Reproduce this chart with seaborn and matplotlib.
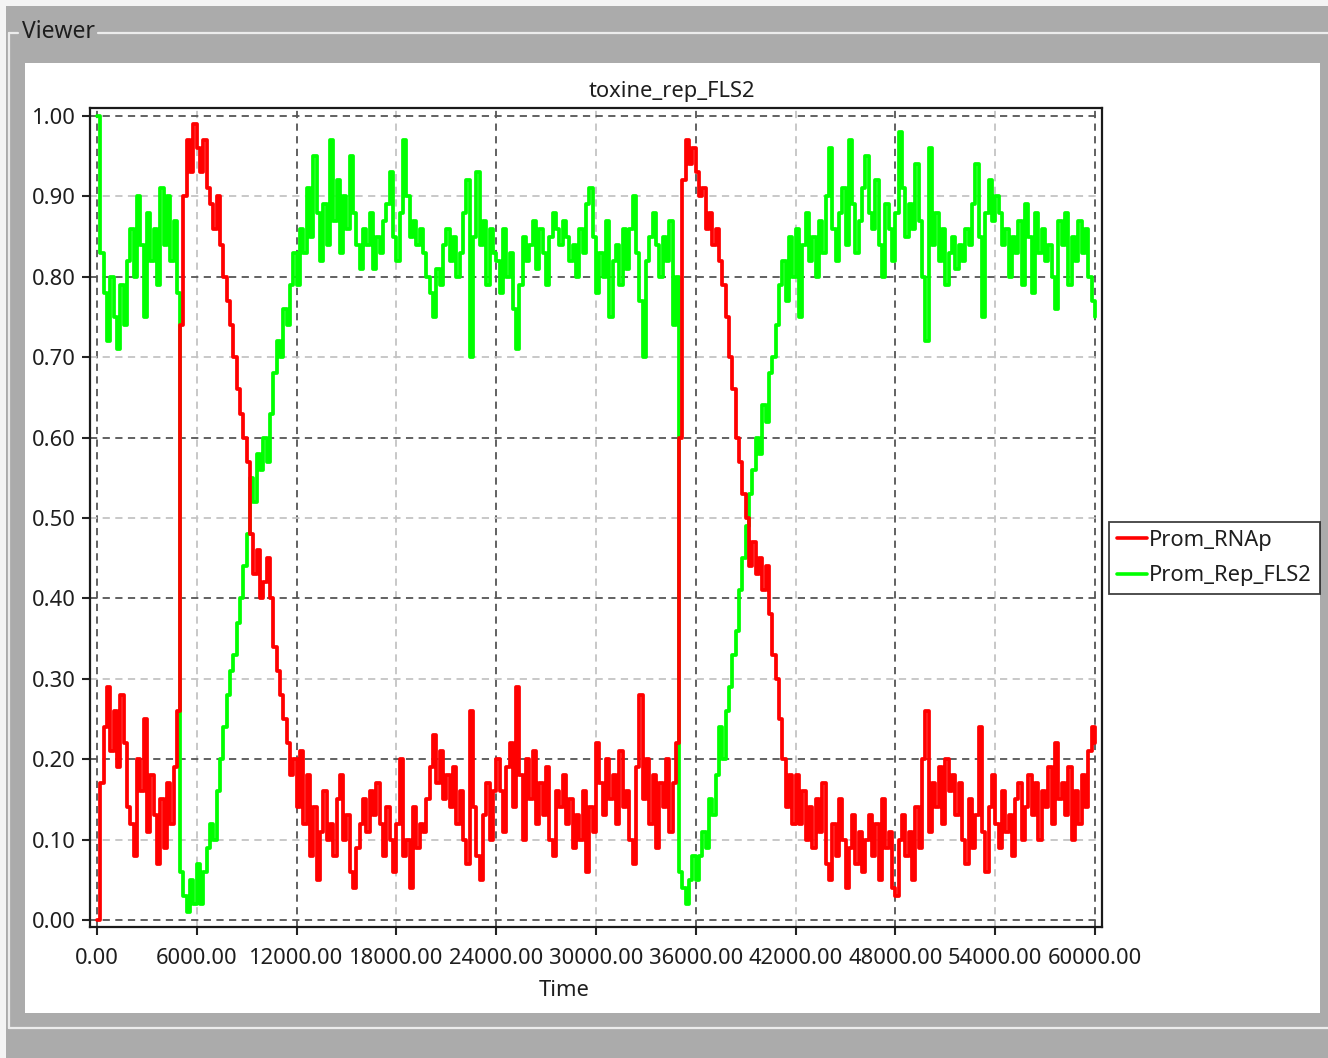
import numpy as np
import pandas as pd
import matplotlib
matplotlib.use('Agg')
import matplotlib.pyplot as plt
import seaborn as sns
from matplotlib.patches import Rectangle
from matplotlib.lines import Line2D
from matplotlib.ticker import FixedLocator, FuncFormatter

# sampling grid of the simulation output (every 200 time units)
time = np.arange(0, 60001, 200)

prom_rnap = [
    0.0, 0.17, 0.24, 0.29, 0.21, 0.26, 0.19, 0.28, 0.22, 0.14,
    0.12, 0.08, 0.2, 0.16, 0.25, 0.11, 0.18, 0.13, 0.07, 0.15,
    0.09, 0.17, 0.12, 0.19, 0.26, 0.74, 0.9, 0.97, 0.93, 0.99,
    0.96, 0.93, 0.97, 0.91, 0.89, 0.86, 0.9, 0.84, 0.8, 0.77,
    0.74, 0.7, 0.66, 0.63, 0.6, 0.57, 0.48, 0.43, 0.46, 0.4,
    0.42, 0.45, 0.4, 0.34, 0.31, 0.28, 0.25, 0.22, 0.18, 0.2,
    0.14, 0.21, 0.12, 0.18, 0.08, 0.14, 0.05, 0.11, 0.16, 0.1,
    0.12, 0.08, 0.15, 0.18, 0.1, 0.13, 0.06, 0.04, 0.09, 0.12,
    0.15, 0.11, 0.16, 0.13, 0.17, 0.12, 0.08, 0.14, 0.1, 0.06,
    0.12, 0.2, 0.08, 0.1, 0.04, 0.14, 0.09, 0.12, 0.11, 0.15,
    0.19, 0.23, 0.17, 0.21, 0.15, 0.18, 0.14, 0.19, 0.12, 0.16,
    0.1, 0.07, 0.26, 0.14, 0.08, 0.05, 0.13, 0.17, 0.1, 0.16,
    0.2, 0.16, 0.11, 0.19, 0.22, 0.14, 0.29, 0.18, 0.1, 0.2,
    0.15, 0.21, 0.12, 0.17, 0.13, 0.19, 0.1, 0.08, 0.16, 0.14,
    0.18, 0.12, 0.15, 0.09, 0.13, 0.1, 0.16, 0.06, 0.14, 0.11,
    0.22, 0.17, 0.13, 0.2, 0.15, 0.18, 0.12, 0.21, 0.14, 0.16,
    0.1, 0.07, 0.19, 0.28, 0.15, 0.2, 0.12, 0.18, 0.09, 0.17,
    0.14, 0.2, 0.11, 0.17, 0.22, 0.6, 0.92, 0.97, 0.94, 0.96,
    0.93, 0.9, 0.91, 0.86, 0.88, 0.84, 0.86, 0.82, 0.79, 0.75,
    0.7, 0.66, 0.6, 0.57, 0.53, 0.5, 0.44, 0.47, 0.43, 0.45,
    0.41, 0.44, 0.38, 0.33, 0.3, 0.25, 0.2, 0.14, 0.18, 0.12,
    0.18, 0.12, 0.16, 0.1, 0.14, 0.09, 0.15, 0.11, 0.17, 0.07,
    0.05, 0.12, 0.08, 0.15, 0.1, 0.04, 0.09, 0.13, 0.07, 0.11,
    0.06, 0.1, 0.13, 0.08, 0.12, 0.05, 0.15, 0.09, 0.11, 0.04,
    0.03, 0.1, 0.13, 0.08, 0.11, 0.05, 0.14, 0.09, 0.2, 0.26,
    0.11, 0.17, 0.14, 0.19, 0.12, 0.2, 0.16, 0.18, 0.13, 0.17,
    0.1, 0.07, 0.15, 0.09, 0.13, 0.24, 0.11, 0.06, 0.14, 0.18,
    0.12, 0.09, 0.16, 0.11, 0.13, 0.08, 0.15, 0.17, 0.1, 0.14,
    0.18, 0.13, 0.17, 0.1, 0.16, 0.14, 0.19, 0.12, 0.22, 0.15,
    0.17, 0.13, 0.19, 0.1, 0.16, 0.12, 0.18, 0.14, 0.21, 0.24,
    0.22,
]

prom_rep_fls2 = [
    1.0, 0.83, 0.78, 0.72, 0.8, 0.75, 0.71, 0.79, 0.74, 0.82,
    0.86, 0.8, 0.9, 0.84, 0.75, 0.88, 0.82, 0.86, 0.79, 0.91,
    0.84, 0.9, 0.82, 0.87, 0.78, 0.06, 0.03, 0.01, 0.05, 0.02,
    0.07, 0.02, 0.06, 0.09, 0.12, 0.1, 0.16, 0.2, 0.24, 0.28,
    0.31, 0.33, 0.37, 0.4, 0.44, 0.48, 0.55, 0.52, 0.58, 0.56,
    0.6, 0.57, 0.63, 0.68, 0.72, 0.7, 0.76, 0.74, 0.79, 0.83,
    0.79, 0.86, 0.83, 0.91, 0.85, 0.95, 0.88, 0.82, 0.89, 0.84,
    0.97, 0.87, 0.92, 0.83, 0.9, 0.86, 0.95, 0.88, 0.84, 0.81,
    0.86, 0.84, 0.88, 0.81, 0.85, 0.83, 0.87, 0.89, 0.93, 0.85,
    0.82, 0.88, 0.97, 0.9, 0.85, 0.87, 0.84, 0.86, 0.83, 0.8,
    0.78, 0.75, 0.81, 0.79, 0.84, 0.86, 0.82, 0.85, 0.8, 0.83,
    0.88, 0.92, 0.7, 0.85, 0.93, 0.84, 0.87, 0.79, 0.86, 0.83,
    0.82, 0.78, 0.86, 0.8, 0.83, 0.76, 0.71, 0.79, 0.85, 0.82,
    0.84, 0.87, 0.81, 0.86, 0.83, 0.79, 0.85, 0.88, 0.86, 0.84,
    0.87, 0.85, 0.82, 0.84, 0.8, 0.86, 0.83, 0.89, 0.91, 0.85,
    0.78, 0.83, 0.8, 0.87, 0.75, 0.82, 0.84, 0.79, 0.86, 0.81,
    0.86, 0.9, 0.83, 0.77, 0.7, 0.82, 0.85, 0.88, 0.84, 0.8,
    0.85, 0.82, 0.87, 0.74, 0.8, 0.06, 0.04, 0.02, 0.05, 0.08,
    0.05, 0.08, 0.11, 0.09, 0.15, 0.13, 0.18, 0.24, 0.2, 0.26,
    0.29, 0.33, 0.36, 0.41, 0.45, 0.49, 0.53, 0.56, 0.6, 0.58,
    0.64, 0.62, 0.68, 0.7, 0.74, 0.79, 0.82, 0.77, 0.85, 0.8,
    0.86, 0.75, 0.84, 0.88, 0.82, 0.85, 0.8, 0.87, 0.83, 0.9,
    0.96, 0.86, 0.82, 0.88, 0.91, 0.84, 0.97, 0.89, 0.83, 0.87,
    0.91, 0.95, 0.88, 0.86, 0.92, 0.84, 0.8, 0.89, 0.86, 0.82,
    0.88, 0.98, 0.91, 0.85, 0.89, 0.86, 0.94, 0.87, 0.8, 0.72,
    0.96, 0.84, 0.88, 0.82, 0.86, 0.79, 0.83, 0.85, 0.81, 0.84,
    0.82, 0.86, 0.84, 0.89, 0.94, 0.85, 0.75, 0.88, 0.92, 0.87,
    0.9, 0.88, 0.84, 0.86, 0.8, 0.85, 0.83, 0.87, 0.79, 0.89,
    0.85, 0.78, 0.88, 0.83, 0.86, 0.82, 0.84, 0.8, 0.76, 0.87,
    0.84, 0.88, 0.79, 0.85, 0.82, 0.87, 0.83, 0.86, 0.8, 0.77,
    0.75,
]

series_names = ['Prom_RNAp', 'Prom_Rep_FLS2']
series_colors = {'Prom_RNAp': '#ff0000', 'Prom_Rep_FLS2': '#00ff00'}
x_major = [0, 12000, 24000, 36000, 48000, 60000]
x_minor = [6000, 18000, 30000, 42000, 54000]
y_major = [0.0, 0.2, 0.4, 0.6, 0.8, 1.0]
y_minor = [0.1, 0.3, 0.5, 0.7, 0.9]

df = pd.DataFrame({
    'Time': np.concatenate([time, time]),
    'value': prom_rnap + prom_rep_fls2,
    'species': [series_names[0]] * len(time) + [series_names[1]] * len(time),
})

sns.set_style('white')
plt.rcParams['font.family'] = ['Noto Sans', 'DejaVu Sans']
FS = 15.8
TXT = '#1e1e1e'

W, H = 1328, 1058
fig = plt.figure(figsize=(W / 100, H / 100), dpi=100)
fig.patch.set_facecolor('#ababab')


def fx(px):
    return px / W


def fy(py):
    return 1 - py / H


# window chrome: light edges, group box and white panel (behind the axes)
fig.patches.append(Rectangle((0, fy(6)), 1, 6 / H, transform=fig.transFigure,
                             facecolor='#f4f4f4', edgecolor='none', zorder=-10))
fig.patches.append(Rectangle((0, 0), fx(6), 1, transform=fig.transFigure,
                             facecolor='#f4f4f4', edgecolor='none', zorder=-10))
fig.patches.append(Rectangle((fx(25), fy(1013)), fx(1320 - 25), (1013 - 63) / H,
                             transform=fig.transFigure, facecolor='white',
                             edgecolor='none', zorder=-10))
box_kw = dict(transform=fig.transFigure, color='#ececec', lw=1.6, zorder=-9)
fig.lines.append(Line2D([fx(9), fx(18)], [fy(33), fy(33)], **box_kw))
fig.lines.append(Line2D([fx(98), 1], [fy(33), fy(33)], **box_kw))
fig.lines.append(Line2D([fx(9), fx(9)], [fy(33), fy(1028)], **box_kw))
fig.lines.append(Line2D([fx(9), 1], [fy(1028), fy(1028)], **box_kw))
fig.text(fx(22), fy(32), 'Viewer', fontsize=16.5, color=TXT, ha='left', va='center')

ax = fig.add_axes([fx(90), fy(927), fx(1102 - 90), (927 - 108) / H])
ax.set_facecolor('white')

sns.lineplot(data=df, x='Time', y='value', hue='species',
             hue_order=['Prom_Rep_FLS2', 'Prom_RNAp'], palette=series_colors,
             estimator=None, sort=False, drawstyle='steps-post',
             linewidth=2.7, legend=False, ax=ax)

ax.set_xlim(-420, 60420)
ax.set_ylim(-0.0087, 1.01)

fmt = FuncFormatter(lambda v, p: f'{v:.2f}')
ax.xaxis.set_major_locator(FixedLocator(x_major))
ax.xaxis.set_minor_locator(FixedLocator(x_minor))
ax.yaxis.set_major_locator(FixedLocator(y_major))
ax.yaxis.set_minor_locator(FixedLocator(y_minor))
for axis in (ax.xaxis, ax.yaxis):
    axis.set_major_formatter(fmt)
    axis.set_minor_formatter(fmt)

ax.grid(which='major', color='#555555', linestyle=(0, (4, 3)), linewidth=1.3)
ax.grid(which='minor', color='#c4c4c4', linestyle=(0, (4, 3)), linewidth=1.3)
ax.set_axisbelow(True)

ax.tick_params(which='both', direction='out', length=6, width=1.5, color='#222222',
               labelsize=FS, labelcolor=TXT, bottom=True, left=True)
ax.tick_params(axis='x', which='both', pad=9)
ax.tick_params(axis='y', which='both', pad=4)
for s in ax.spines.values():
    s.set_color('#1a1a1a')
    s.set_linewidth(1.6)

ax.set_xlabel('')
ax.set_ylabel('')
fig.text(fx(672), fy(91), 'toxine_rep_FLS2', fontsize=FS, color=TXT, ha='center', va='center')
fig.text(fx(564), fy(990), 'Time', fontsize=FS, color=TXT, ha='center', va='center')

handles = [Line2D([], [], color=series_colors[n], lw=2.6) for n in series_names]
leg = fig.legend(handles, series_names, loc='upper left',
                 bbox_to_anchor=(fx(1109), fy(522)), bbox_transform=fig.transFigure,
                 fontsize=FS, frameon=True, fancybox=False, borderaxespad=0,
                 borderpad=0.35, handlelength=1.4, handletextpad=0.08,
                 labelspacing=0.67)
leg.get_frame().set_edgecolor('#111111')
leg.get_frame().set_linewidth(1.3)
for t in leg.get_texts():
    t.set_color(TXT)

fig.savefig('out.png', dpi=100, facecolor=fig.get_facecolor())
